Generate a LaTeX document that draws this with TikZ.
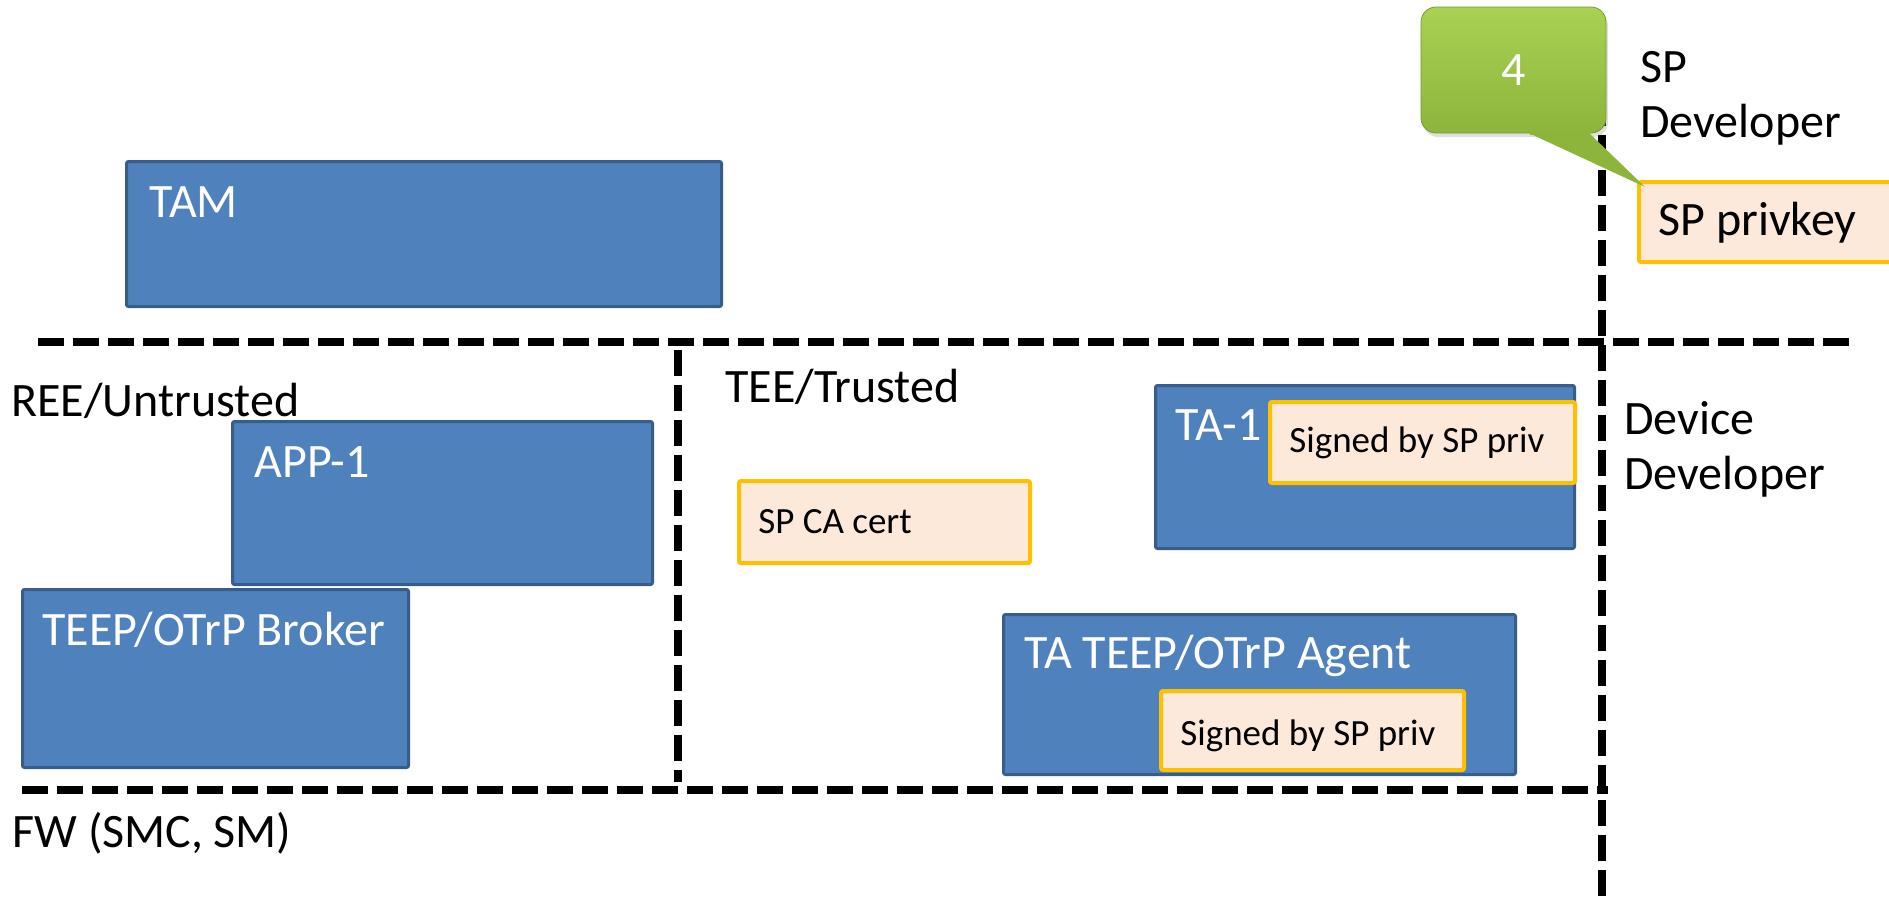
\documentclass[tikz,border=0pt]{standalone}
\usepackage{fontspec}
\setmainfont{Carlito}
\usetikzlibrary{shadows}
\definecolor{bluefill}{HTML}{4F81BD}
\definecolor{blueedge}{HTML}{385D8A}
\definecolor{keyfill}{HTML}{FDE9D9}
\definecolor{keyedge}{HTML}{FFC000}
\definecolor{greentop}{HTML}{A9D153}
\definecolor{greenbot}{HTML}{8DB53C}
\begin{document}
\begin{tikzpicture}[x=0.5pt,y=-0.5pt,
  bluebox/.style={draw=blueedge, fill=bluefill, line width=1.5pt, rounded corners=1pt, inner sep=0pt, anchor=north west},
  keybox/.style={draw=keyedge, fill=keyfill, line width=2pt, rounded corners=1pt, inner sep=0pt, anchor=north west},
  big/.style={font=\fontsize{24}{29}\selectfont, inner sep=0pt, anchor=base west},
  small/.style={font=\fontsize{18.5}{22}\selectfont, inner sep=0pt, anchor=base west},
  bound/.style={line width=4pt, dash pattern=on 13pt off 4.5pt}
]
\useasboundingbox (0,0) rectangle (1889,901);
\clip (0,0) rectangle (1889,901);
% boundaries
\draw[bound] (38,342) -- (1849,342);
\draw[bound] (22,790) -- (1608,790);
\draw[bound] (678,350) -- (678,782);
\draw[bound] (1602,100) -- (1602,901);
% boxes
\node[bluebox, minimum width=297.5pt, minimum height=72.5pt] (tam) at (125,160) {};
\node[big, text=white] (tamt) at (149,217) {TAM};
\node[bluebox, minimum width=210pt, minimum height=81.5pt] (app) at (231,420) {};
\node[big, text=white] (appt) at (254,477) {APP-1};
\node[bluebox, minimum width=193pt, minimum height=89pt] (broker) at (21,588) {};
\node[big, text=white] (brokert) at (42,645) {TEEP/OTrP Broker};
\node[keybox, minimum width=145.5pt, minimum height=41pt] (ca) at (737,479) {};
\node[small] (cat) at (758,533) {SP CA cert};
\node[bluebox, minimum width=209.5pt, minimum height=81.5pt] (ta) at (1154,384) {};
\node[big, text=white] (tat) at (1175,440) {TA-1};
\node[keybox, minimum width=152.5pt, minimum height=40.5pt] (sig1) at (1268,400) {};
\node[small] (sig1t) at (1289,452) {Signed by SP priv};
\node[bluebox, minimum width=256pt, minimum height=80pt] (agent) at (1002,613) {};
\node[big, text=white] (agentt) at (1024,668) {TA TEEP/OTrP Agent};
\node[keybox, minimum width=151.5pt, minimum height=39.5pt] (sig2) at (1159,689) {};
\node[small] (sig2t) at (1180,745) {Signed by SP priv};
\node[keybox, minimum width=134pt, minimum height=40pt] (key) at (1637,180) {};
\node[big] (keyt) at (1658,235) {SP privkey};
% labels
\node[big] (ree) at (11,416) {REE/Untrusted};
\node[big] (tee) at (725,402) {TEE/Trusted};
\node[big] (fw) at (12,847) {FW (SMC, SM)};
\node[big] (dev1) at (1624,434) {Device};
\node[big] (dev2) at (1624,489) {Developer};
\node[big] (sp1) at (1640,82) {SP};
\node[big] (sp2) at (1640,137) {Developer};
% callout
\node[draw=greenbot!85!black, line width=0.4pt, top color=greentop, bottom color=greenbot, rounded corners=7.5pt,
      drop shadow={shadow xshift=1pt, shadow yshift=-2pt, opacity=0.25},
      minimum width=92.5pt, minimum height=63pt, inner sep=0pt,
      font=\fontsize{24}{29}\selectfont, text=white] (c4) at (1513.5,70) {4};
\coordinate (tip) at ([xshift=4pt,yshift=-3.5pt]key.north west);
\fill[greenbot] ([xshift=8pt]c4.south) -- (tip) -- ([xshift=38pt]c4.south) -- cycle;
\fill[greenbot] ([xshift=8pt,yshift=1pt]c4.south) rectangle ([xshift=38pt,yshift=-1pt]c4.south);
\end{tikzpicture}
\end{document}
